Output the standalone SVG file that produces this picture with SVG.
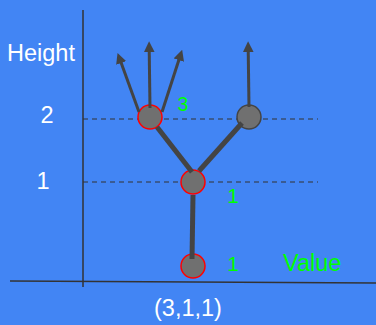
<svg xmlns="http://www.w3.org/2000/svg" width="376" height="325" viewBox="0 0 376 325">
<style>
.lbl{font-family:"Liberation Sans",Arial,sans-serif;fill:#ffffff;}
.grn{font-family:"Liberation Sans",Arial,sans-serif;fill:#00ff00;}
.axis{stroke:#333333;stroke-width:1.5;fill:none;}
.dash{stroke:#333333;stroke-width:1;stroke-dasharray:5 4;fill:none;}
.edge{stroke:#444444;stroke-width:5;fill:none;}
.arr{stroke:#444444;stroke-width:3;fill:none;marker-end:url(#ah);}
.node{fill:#707070;stroke-width:1.5;}
</style>
<defs>
<marker id="ah" viewBox="0 0 10 10" refX="2" refY="5" markerWidth="3.6" markerHeight="3.6" orient="auto" markerUnits="strokeWidth">
<path d="M0,0 L10,5 L0,10 Z" fill="#444444"/>
</marker>
</defs>
<rect x="0" y="0" width="376" height="325" fill="#4285f4"/>
<g id="axes">
<line class="axis" x1="83" y1="10" x2="83" y2="287"/>
<line class="axis" x1="10" y1="281" x2="376" y2="283"/>
<line class="dash" x1="83" y1="119" x2="318" y2="119"/>
<line class="dash" x1="83" y1="182" x2="318" y2="182"/>
</g>
<g id="n-left"><circle class="node" cx="150" cy="117" r="12" stroke="#ff0000"/></g>
<g id="n-right"><circle class="node" cx="249" cy="117" r="12" stroke="#444444"/></g>
<g id="n-mid"><circle class="node" cx="193" cy="182" r="12" stroke="#ff0000"/></g>
<g id="n-bottom"><circle class="node" cx="193" cy="266" r="12" stroke="#ff0000"/></g>
<g id="connectors">
<line class="edge" x1="157" y1="127" x2="192" y2="172"/>
<line class="edge" x1="242" y1="123" x2="199" y2="171"/>
<line class="edge" x1="193" y1="195" x2="192" y2="259"/>
<line class="arr" x1="139" y1="112" x2="120.5" y2="61"/>
<line class="arr" x1="150" y1="108" x2="149.2" y2="50"/>
<line class="arr" x1="162" y1="112" x2="179.5" y2="58"/>
<line class="arr" x1="249" y1="107" x2="248.2" y2="50"/>
</g>
<g id="labels">
<text class="lbl" x="7" y="61" font-size="23.5">Height</text>
<text class="lbl" x="47" y="123" font-size="23.5" text-anchor="middle">2</text>
<text class="lbl" x="43" y="189" font-size="23.5" text-anchor="middle">1</text>
<text class="lbl" x="188" y="316" font-size="23.5" text-anchor="middle">(3,1,1)</text>
<text class="grn" x="183" y="111" font-size="19.5" text-anchor="middle">3</text>
<text class="grn" x="233" y="203" font-size="21" text-anchor="middle">1</text>
<text class="grn" x="233" y="271" font-size="21" text-anchor="middle">1</text>
<text class="grn" x="283" y="271" font-size="23.5">Value</text>
</g>
</svg>
